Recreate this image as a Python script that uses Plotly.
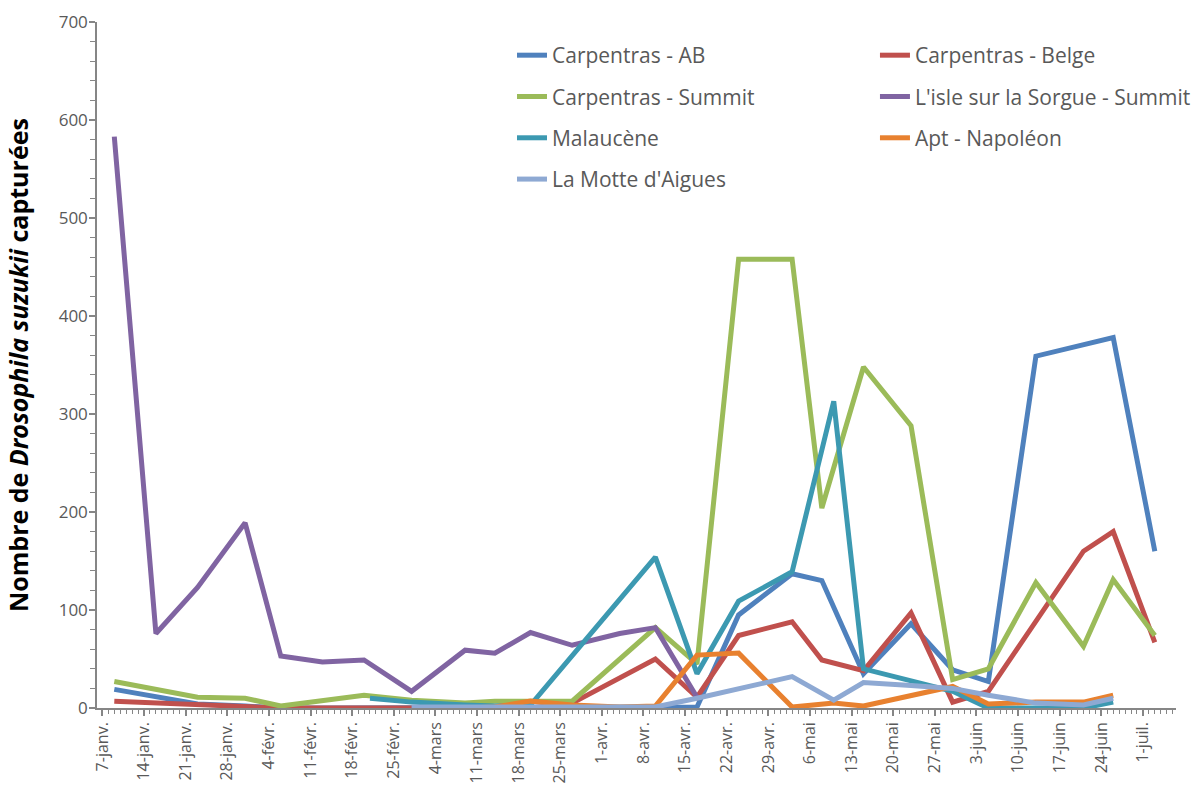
import plotly.graph_objects as go

# Weekly axis ticks (French date labels)
tick_dates = ["2019-01-07", "2019-01-14", "2019-01-21", "2019-01-28", "2019-02-04",
              "2019-02-11", "2019-02-18", "2019-02-25", "2019-03-04", "2019-03-11",
              "2019-03-18", "2019-03-25", "2019-04-01", "2019-04-08", "2019-04-15",
              "2019-04-22", "2019-04-29", "2019-05-06", "2019-05-13", "2019-05-20",
              "2019-05-27", "2019-06-03", "2019-06-10", "2019-06-17", "2019-06-24",
              "2019-07-01"]
tick_labels = ["7-janv.", "14-janv.", "21-janv.", "28-janv.", "4-févr.", "11-févr.",
               "18-févr.", "25-févr.", "4-mars", "11-mars", "18-mars", "25-mars",
               "1-avr.", "8-avr.", "15-avr.", "22-avr.", "29-avr.", "6-mai", "13-mai",
               "20-mai", "27-mai", "3-juin", "10-juin", "17-juin", "24-juin", "1-juil."]

# Carpentras - AB
ab_dates = ["2019-01-09", "2019-01-16", "2019-01-23", "2019-01-31", "2019-02-06",
            "2019-02-13", "2019-02-20", "2019-02-28", "2019-03-09", "2019-03-14",
            "2019-03-20", "2019-03-27", "2019-04-04", "2019-04-10", "2019-04-17",
            "2019-04-24", "2019-05-03", "2019-05-08", "2019-05-15", "2019-05-23",
            "2019-05-30", "2019-06-05", "2019-06-13", "2019-06-26", "2019-07-03"]
ab_values = [19, 11, 4, 2, 0, 0, 0, 0, 0, 0, 0, 0, 0, 0, 1,
             95, 137, 130, 35, 86, 39, 27, 359, 378, 160]

# Carpentras - Belge
belge_dates = ["2019-01-09", "2019-01-16", "2019-01-23", "2019-01-31", "2019-02-06",
               "2019-02-13", "2019-02-20", "2019-02-28", "2019-03-09", "2019-03-14",
               "2019-03-20", "2019-03-27", "2019-04-10", "2019-04-17", "2019-04-24",
               "2019-05-03", "2019-05-08", "2019-05-15", "2019-05-23", "2019-05-30",
               "2019-06-05", "2019-06-21", "2019-06-26", "2019-07-03"]
belge_values = [7, 5, 3, 1, 0, 0, 0, 0, 0, 0, 0, 5, 50, 11, 74,
                88, 49, 38, 97, 6, 17, 160, 180, 67]

# Carpentras - Summit
summit_dates = ["2019-01-09", "2019-01-23", "2019-01-31", "2019-02-06", "2019-02-20",
                "2019-02-28", "2019-03-09", "2019-03-14", "2019-03-20", "2019-03-27",
                "2019-04-10", "2019-04-17", "2019-04-24", "2019-05-03", "2019-05-08",
                "2019-05-15", "2019-05-23", "2019-05-30", "2019-06-05", "2019-06-13",
                "2019-06-21", "2019-06-26", "2019-07-03"]
summit_values = [27, 11, 10, 2, 13, 8, 5, 7, 7, 7, 82, 45, 458, 458, 204,
                 348, 288, 29, 40, 128, 63, 131, 74]

# L'isle sur la Sorgue - Summit
isle_dates = ["2019-01-09", "2019-01-16", "2019-01-23", "2019-01-31", "2019-02-06",
              "2019-02-13", "2019-02-20", "2019-02-28", "2019-03-09", "2019-03-14",
              "2019-03-20", "2019-03-27", "2019-04-04", "2019-04-10", "2019-04-17"]
isle_values = [583, 76, 123, 189, 53, 47, 49, 17, 59, 56, 77, 64, 76, 82, 11]

# Malaucène
malaucene_dates = ["2019-02-21", "2019-02-28", "2019-03-09", "2019-03-14", "2019-03-20",
                   "2019-04-10", "2019-04-17", "2019-04-24", "2019-05-03", "2019-05-10",
                   "2019-05-15", "2019-05-23", "2019-05-30", "2019-06-05", "2019-06-13",
                   "2019-06-21", "2019-06-26"]
malaucene_values = [10, 6, 3, 2, 3, 154, 35, 109, 139, 313, 40, 28, 17, 0, 0, 0, 6]

# Apt - Napoléon
apt_dates = ["2019-03-09", "2019-03-14", "2019-03-20", "2019-03-27", "2019-04-04",
             "2019-04-10", "2019-04-17", "2019-04-24", "2019-05-03", "2019-05-10",
             "2019-05-15", "2019-05-30", "2019-06-05", "2019-06-13", "2019-06-21",
             "2019-06-26"]
apt_values = [0, 1, 7, 3, 1, 2, 54, 56, 1, 5, 2, 22, 4, 6, 6, 13]

# La Motte d'Aigues
motte_dates = ["2019-02-28", "2019-03-09", "2019-03-14", "2019-03-20", "2019-03-27",
               "2019-04-04", "2019-04-10", "2019-04-17", "2019-05-03", "2019-05-10",
               "2019-05-15", "2019-05-23", "2019-05-30", "2019-06-05", "2019-06-13",
               "2019-06-21", "2019-06-26"]
motte_values = [1, 1, 1, 2, 2, 1, 1, 10, 32, 8, 26, 23, 20, 13, 5, 3, 10]

series = [
    ("Carpentras - AB", ab_dates, ab_values, "#4F81BD", "legend"),
    ("Carpentras - Belge", belge_dates, belge_values, "#C0504D", "legend2"),
    ("Carpentras - Summit", summit_dates, summit_values, "#9BBB59", "legend"),
    ("L'isle sur la Sorgue - Summit", isle_dates, isle_values, "#8064A2", "legend2"),
    ("Malaucène", malaucene_dates, malaucene_values, "#3C99B1", "legend"),
    ("Apt - Napoléon", apt_dates, apt_values, "#E8812F", "legend2"),
    ("La Motte d'Aigues", motte_dates, motte_values, "#8EA9D3", "legend"),
]

FONT = "'Open Sans', 'Noto Sans', sans-serif"
AXIS_GREY = "#868686"
TEXT_GREY = "#595959"

fig = go.Figure()
for i, (name, xs, ys, color, leg) in enumerate(series):
    fig.add_trace(go.Scatter(
        x=xs, y=ys, name=name, mode="lines", legend=leg, legendgroup=str(i),
        line=dict(color=color, width=5),
    ))

x_range = ["2019-01-06 02:10", "2019-07-06 13:30"]

fig.update_layout(
    width=1192, height=802,
    margin=dict(l=97, r=16, t=22, b=94, autoexpand=False),
    plot_bgcolor="white", paper_bgcolor="white",
    font=dict(family=FONT, color=TEXT_GREY),
    xaxis=dict(
        type="date", range=x_range,
        tickmode="array", tickvals=tick_dates, ticktext=tick_labels,
        tickangle=-90, tickfont=dict(size=16, color=TEXT_GREY),
        ticks="outside", ticklen=6, tickwidth=1.5, tickcolor=AXIS_GREY,
        minor=dict(tickmode="linear", tick0="2019-01-07", dtick=86400000,
                   ticks="outside", ticklen=4, tickwidth=1.2, tickcolor=AXIS_GREY),
        showline=True, linecolor=AXIS_GREY, linewidth=1.5,
        showgrid=False, zeroline=False, fixedrange=True,
    ),
    xaxis2=dict(
        type="date", range=x_range, overlaying="x", anchor="y",
        tickmode="array", tickvals=tick_dates, showticklabels=False,
        ticks="inside", ticklen=6, tickwidth=1.5, tickcolor=AXIS_GREY,
        minor=dict(tickmode="linear", tick0="2019-01-07", dtick=86400000,
                   ticks="inside", ticklen=4, tickwidth=1.2, tickcolor=AXIS_GREY),
        showline=False, showgrid=False, zeroline=False,
    ),
    yaxis=dict(
        range=[0, 700], tickmode="linear", tick0=0, dtick=100,
        tickfont=dict(size=17, color=TEXT_GREY),
        ticks="outside", ticklen=6, tickwidth=1.5, tickcolor=AXIS_GREY,
        minor=dict(dtick=20, ticks="outside", ticklen=5, tickwidth=1.2, tickcolor=AXIS_GREY),
        ticklabelstandoff=-2,
        showline=True, linecolor=AXIS_GREY, linewidth=1.5,
        showgrid=False, zeroline=False,
    ),
    yaxis2=dict(
        range=[0, 700], overlaying="y", anchor="x", side="left",
        tickmode="linear", tick0=0, dtick=100, showticklabels=False,
        ticks="inside", ticklen=7, tickwidth=1.5, tickcolor=AXIS_GREY,
        showline=False, showgrid=False, zeroline=False,
    ),
    legend=dict(x=0.3846, y=0.981, xanchor="left", yanchor="top",
                font=dict(size=21, color=TEXT_GREY), tracegroupgap=11,
                bgcolor="rgba(0,0,0,0)"),
    legend2=dict(x=0.721, y=0.981, xanchor="left", yanchor="top",
                 font=dict(size=21, color=TEXT_GREY), tracegroupgap=11,
                 bgcolor="rgba(0,0,0,0)"),
    showlegend=True,
    annotations=[dict(
        text="<b>Nombre de <i>Drosophila suzukii</i> capturées</b>",
        textangle=-90, xref="paper", yref="paper", x=-0.0732, y=0.5,
        xanchor="center", yanchor="middle", showarrow=False,
        font=dict(size=25, color="black", family=FONT),
    )],
)

fig.write_html("out.html")
